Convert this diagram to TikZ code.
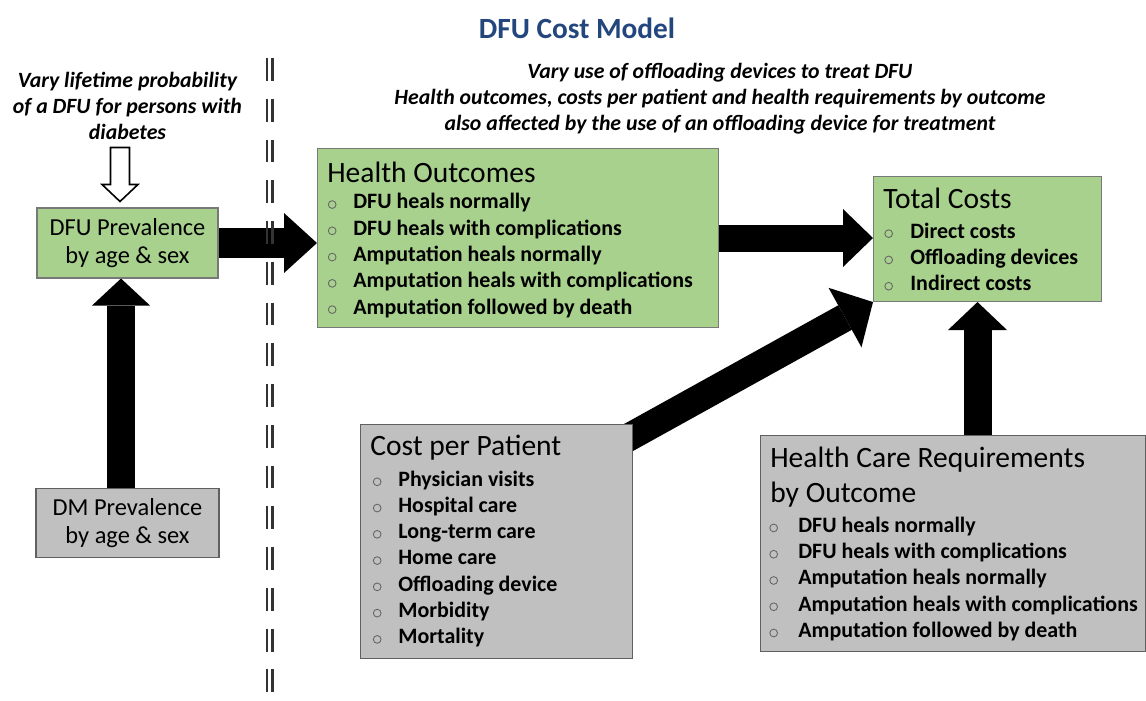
\documentclass[tikz,border=0pt]{standalone}
\usepackage{fontspec}
\setmainfont{Carlito}
\usetikzlibrary{arrows.meta,calc,backgrounds}
\newlength\pxu \setlength\pxu{0.02cm}
\newlength\bw
\definecolor{boxgreen}{RGB}{169,209,142}
\definecolor{boxgray}{RGB}{192,192,192}
\definecolor{titleblue}{RGB}{35,70,125}
\definecolor{edgegray}{RGB}{120,120,120}
\newcommand\fitem{\fontsize{12.5}{14.95}\selectfont\bfseries}
\newcommand\ftitle{\fontsize{16.8}{19.8}\selectfont}
\newcommand\fprev{\fontsize{13.9}{16.3}\selectfont}
\newcommand\fnote{\fontsize{12.4}{14.9}\selectfont\bfseries\itshape}
\newcommand\bul{\tikz[baseline=0pt]{\useasboundingbox (0pt,0pt) rectangle (5.5pt,5pt);\draw[black!60,line width=0.5pt] (2.75pt,2.5pt) circle[radius=2.2pt];}}
\newcommand\itm[1]{\makebox[\bw][l]{\bul}#1}
\begin{document}
\begin{tikzpicture}[x=0.02cm,y=-0.02cm,
  gbox/.style={draw=edgegray, line width=0.6pt, fill=boxgreen, inner sep=0pt},
  graybox/.style={draw=edgegray!80!black, line width=0.6pt, fill=boxgray, inner sep=0pt},
  ttl/.style={font=\ftitle, inner sep=0pt, anchor=west},
  items/.style={font=\fitem\setlength\bw{#1\pxu}, align=left, inner sep=0pt, anchor=west},
  note/.style={font=\fnote, align=center, inner sep=0pt},
  fat/.style n args={3}{draw=black, line width=#1, -{Triangle[width=#2,length=#3,line width'=0pt]}},
  hollow/.style={draw=black, line width=0.9pt, fill=white, line join=miter},
  dl/.style={draw=black!80, line width=1.2pt, dash pattern=on 13pt off 10.2pt}]
\useasboundingbox (0,0) rectangle (1146,700);

% title
\node[font=\fontsize{16.7}{20}\selectfont\bfseries, text=titleblue, inner sep=0pt] (title) at (577,28) {DFU Cost Model};

% notes
\node[note] (vary) at (127.5,106) {Vary lifetime probability\\of a DFU for persons with\\diabetes};
\node[note] (varyoff) at (720,99) {Vary use of offloading devices to treat DFU\\Health outcomes, costs per patient and health requirements by outcome\\also affected by the use of an offloading device for treatment};

% divider
\draw[dl] (267,58) -- (267,700);
\draw[dl] (272.5,58) -- (272.5,700);

% left boxes
\node[gbox, minimum width=3.62cm, minimum height=1.4cm, font=\fprev, align=center] (dfu) at (127.5,243) {DFU Prevalence\\by age \& sex};
\node[graybox, minimum width=3.66cm, minimum height=1.38cm, font=\fprev, align=center] (dm) at (127.5,523) {DM Prevalence\\by age \& sex};

% Health outcomes
\node[gbox, anchor=north west, minimum width=8.02cm, minimum height=3.58cm] (ho) at (317,148) {};
\node[ttl] (hot) at ($(ho.north west)+(10,24)$) {Health Outcomes};
\node[items=26] (hoi) at ($(ho.north west)+(10,107.5)$) {\itm{DFU heals normally}\\\itm{DFU heals with complications}\\\itm{Amputation heals normally}\\\itm{Amputation heals with complications}\\\itm{Amputation followed by death}};

% Total costs
\node[gbox, anchor=north west, minimum width=4.56cm, minimum height=2.5cm] (tc) at (873,176) {};
\node[ttl] (tct) at ($(tc.north west)+(10,22)$) {Total Costs};
\node[items=26.5] (tci) at ($(tc.north west)+(10.5,80.7)$) {\itm{Direct costs}\\\itm{Offloading devices}\\\itm{Indirect costs}};

% Cost per patient
\node[graybox, anchor=north west, minimum width=5.44cm, minimum height=4.68cm] (cpp) at (360,424) {};
\node[ttl] (cppt) at ($(cpp.north west)+(10,24)$) {Cost per Patient};
\node[items=26] (cppi) at ($(cpp.north west)+(12,135)$) {\itm{Physician visits}\\\itm{Hospital care}\\\itm{Long-term care}\\\itm{Home care}\\\itm{Offloading device}\\\itm{Morbidity}\\\itm{Mortality}};

% Health care requirements
\node[graybox, anchor=north west, minimum width=7.7cm, minimum height=4.32cm] (hcr) at (760,435) {};
\node[ttl, align=left] (hcrt) at ($(hcr.north west)+(10,42.5)$) {Health Care Requirements\\by Outcome};
\node[items=29.5] (hcri) at ($(hcr.north west)+(8.5,143.9)$) {\itm{DFU heals normally}\\\itm{DFU heals with complications}\\\itm{Amputation heals normally}\\\itm{Amputation heals with complications}\\\itm{Amputation followed by death}};

% connectors
\coordinate (ax3) at (121,0);
\coordinate (ax5) at (977.5,0);
\coordinate (a4s) at (615,445);
\coordinate (htip) at ($(dfu.north)+(-7.5,-6)$);
\begin{scope}[on background layer]
\draw[fat={0.6cm}{1.2cm}{0.66cm}] (dfu.east) -- (dfu.east -| ho.west);
\draw[fat={0.54cm}{1.16cm}{0.6cm}] (ho.east) -- (ho.east -| tc.west);
\draw[fat={0.58cm}{1.16cm}{0.54cm}] (dm.north -| ax3) -- (dfu.south -| ax3);
\draw[fat={0.56cm}{1.36cm}{0.64cm}] (a4s) -- (tc.south west);
\draw[fat={0.56cm}{1.18cm}{0.56cm}] (hcr.north -| ax5) -- (tc.south -| ax5);
\end{scope}
\draw[hollow] (htip) -- ++(-18,-17) -- ++(8.5,0) -- ++(0,-37) -- ++(19,0) -- ++(0,37) -- ++(8.5,0) -- cycle;
\end{tikzpicture}
\end{document}
